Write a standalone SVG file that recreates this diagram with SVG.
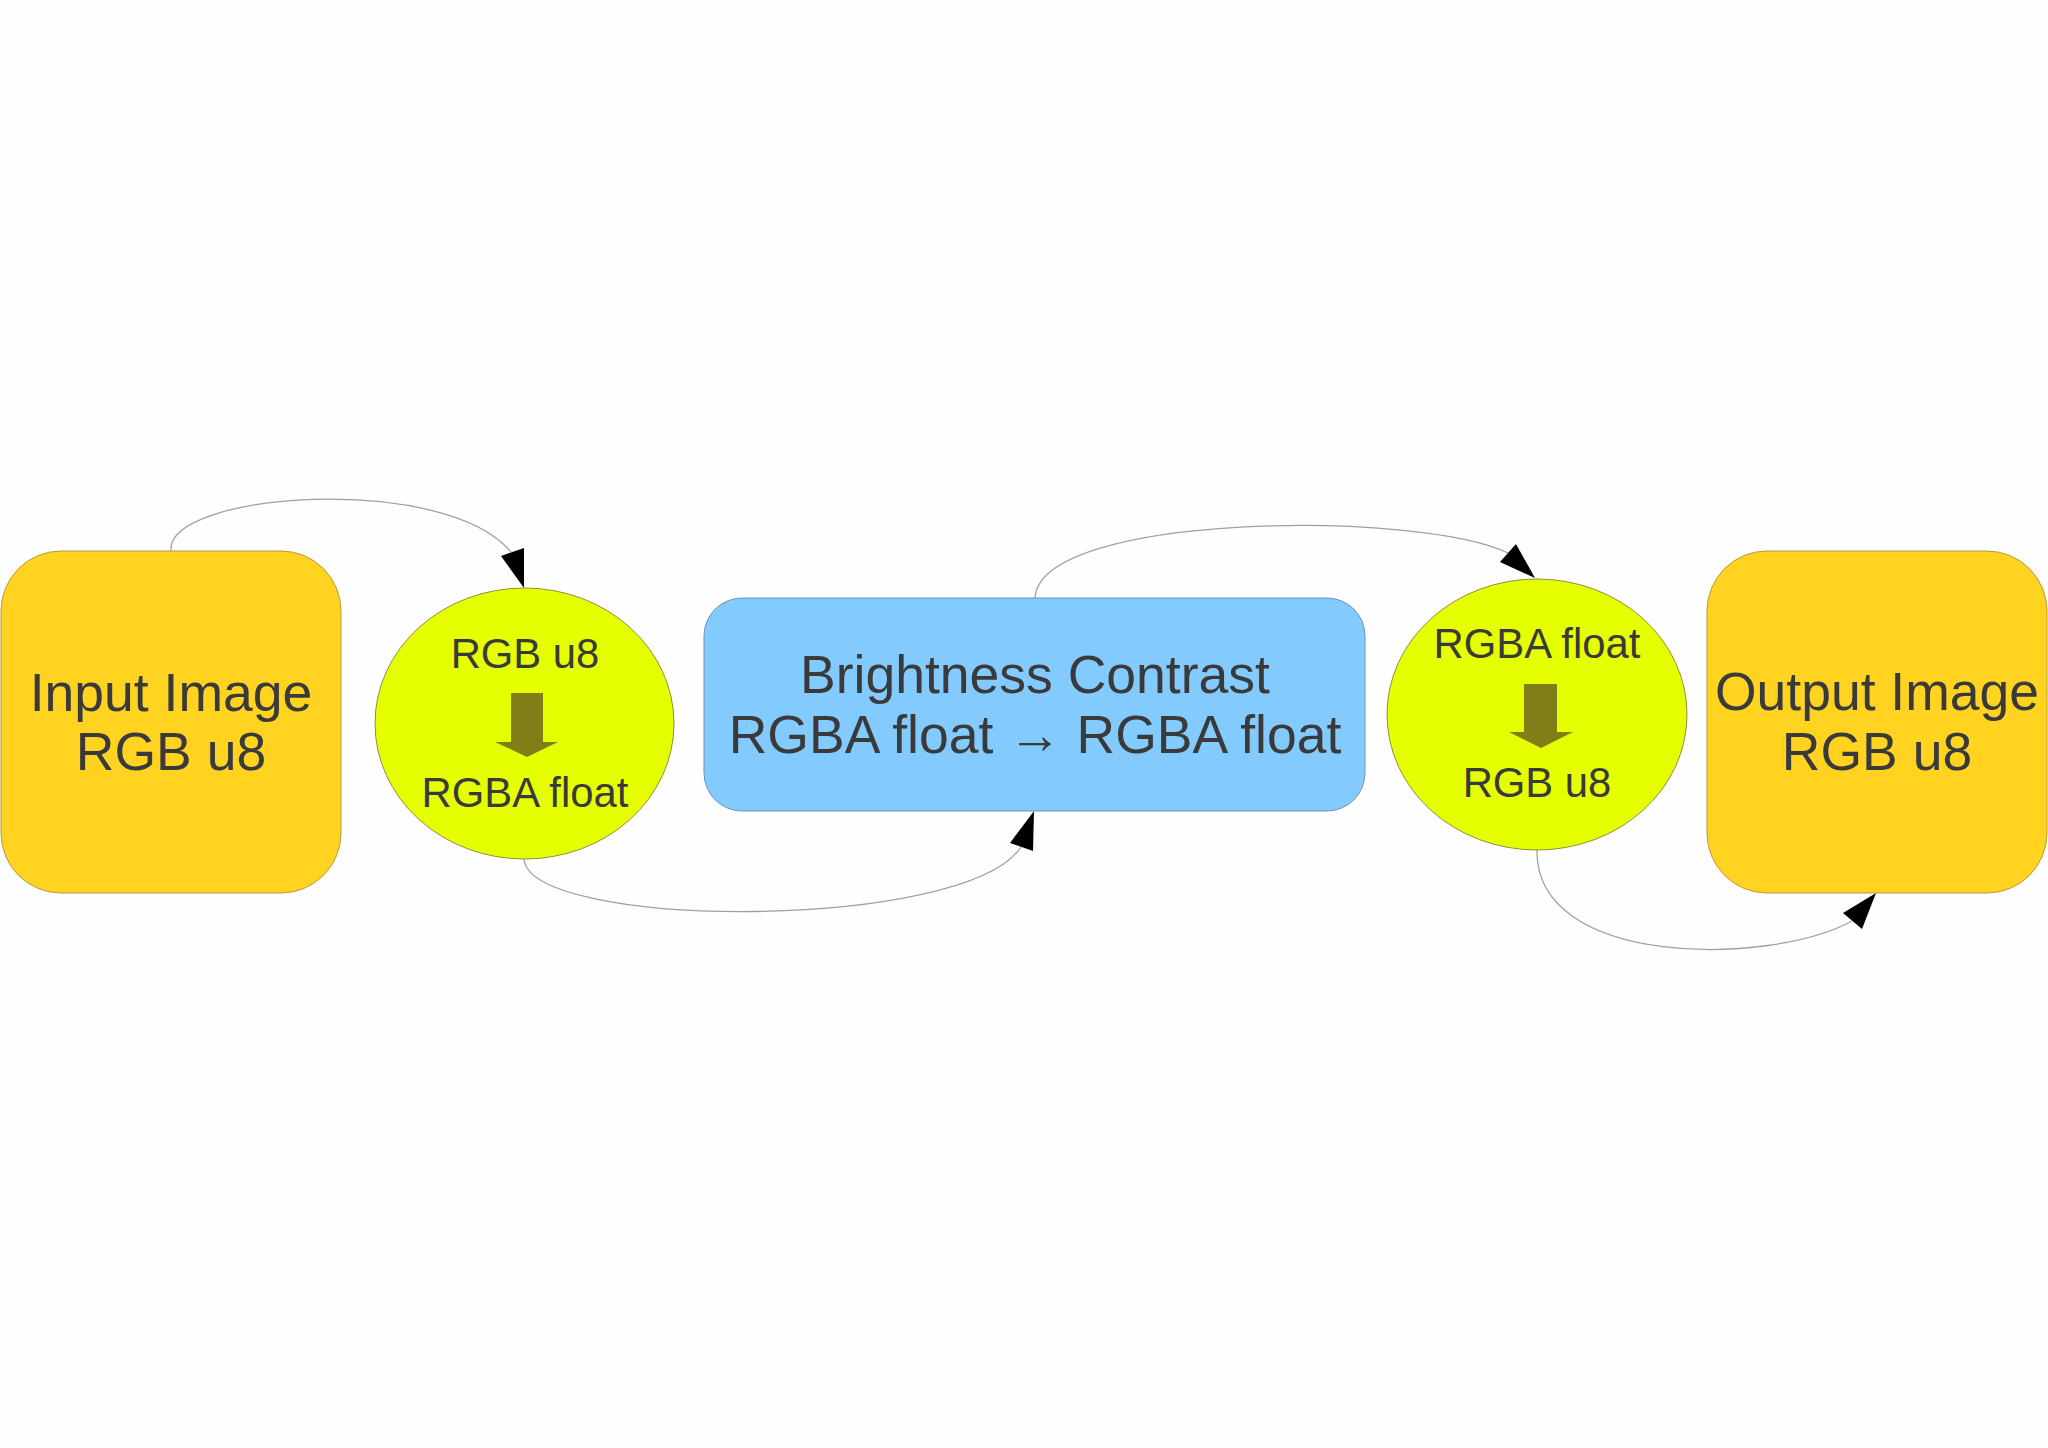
<svg xmlns="http://www.w3.org/2000/svg" width="2048" height="1448" viewBox="0 0 2048 1448">
<style>
.bg{fill:#fefefe}
.img{fill:#ffd320;stroke:#b89a3a;stroke-width:1}
.conv{fill:#e5ff00;stroke:#8f8f3a;stroke-width:1}
.proc{fill:#83caff;stroke:#6c93b4;stroke-width:1}
.big{font-family:"Liberation Sans",Arial,sans-serif;font-size:53.5px;fill:#3a3a3a;text-anchor:middle}
.small{font-family:"Liberation Sans",Arial,sans-serif;font-size:41.8px;fill:#3a3a3a;text-anchor:middle}
.down{fill:#807f17}
.conn{fill:none;stroke:#a0a0a0;stroke-width:1.3}
.head{fill:#000}
</style>
<rect class="bg" x="0" y="0" width="2048" height="1448"/>
<g id="connectors">
<path class="conn" d="M171,551 C165,492 445,472 511,552"/>
<polygon class="head" points="524,588 501,556 524,548"/>
<path class="conn" d="M524,859 C530,930 965,932 1021,847"/>
<polygon class="head" points="1034,811 1010,843 1033,851"/>
<path class="conn" d="M1035,598 C1040,512 1420,510 1508,553"/>
<polygon class="head" points="1535,578 1500,562 1516,544"/>
<path class="conn" d="M1537,850 C1535,968 1770,966 1852,921"/>
<polygon class="head" points="1876,893 1843,913 1862,929"/>
</g>
<g id="input-image">
<rect class="img" x="1" y="551" width="340" height="342" rx="60" ry="60"/>
<text class="big" x="171" y="711">Input Image</text>
<text class="big" x="171" y="770">RGB u8</text>
</g>
<g id="convert-in">
<ellipse class="conv" cx="524.5" cy="723.5" rx="149.5" ry="135.5"/>
<text class="small" x="525" y="668">RGB u8</text>
<polygon class="down" points="511,693 543,693 543,742 558,742 527,757 495,742 511,742"/>
<text class="small" x="525" y="807">RGBA float</text>
</g>
<g id="brightness-contrast">
<rect class="proc" x="704" y="598" width="661" height="213" rx="38" ry="38"/>
<text class="big" x="1035" y="693">Brightness Contrast</text>
<text class="big" x="1035" y="753">RGBA float → RGBA float</text>
</g>
<g id="convert-out">
<ellipse class="conv" cx="1537" cy="714.5" rx="150" ry="135.5"/>
<text class="small" x="1537" y="658">RGBA float</text>
<polygon class="down" points="1524,684 1557,684 1557,732 1573,732 1541,748 1509,732 1524,732"/>
<text class="small" x="1537" y="797">RGB u8</text>
</g>
<g id="output-image">
<rect class="img" x="1707" y="551" width="340" height="342" rx="60" ry="60"/>
<text class="big" x="1877" y="710">Output Image</text>
<text class="big" x="1877" y="770">RGB u8</text>
</g>
</svg>
